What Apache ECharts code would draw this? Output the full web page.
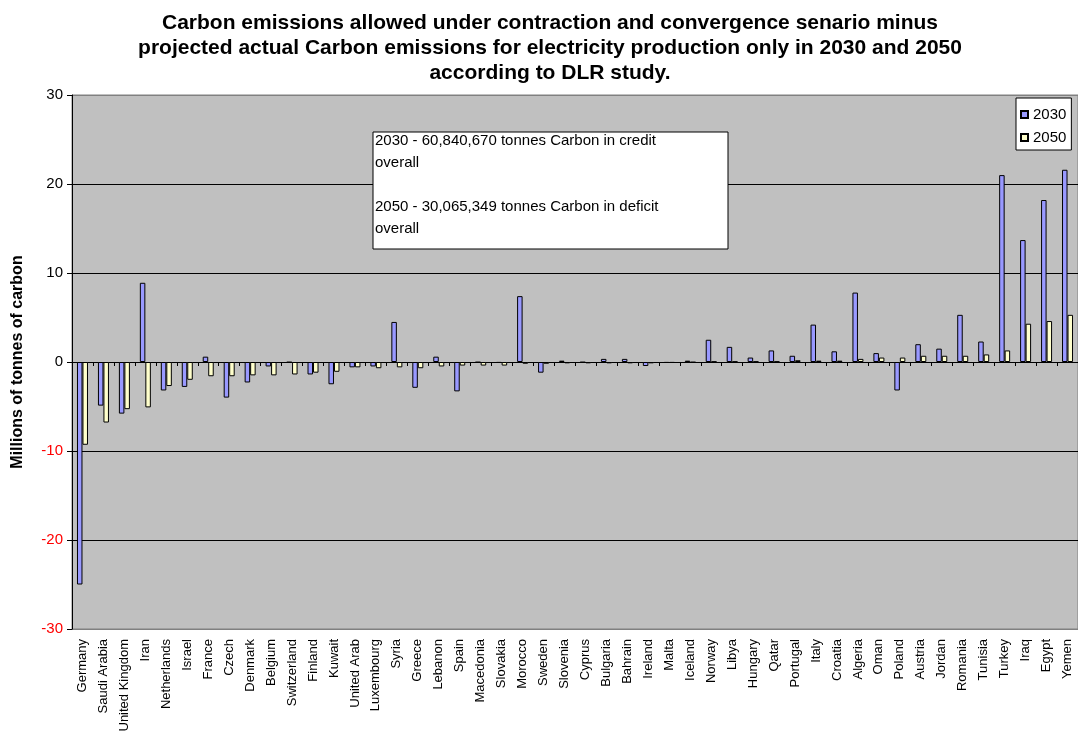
<!DOCTYPE html>
<html>
<head>
<meta charset="utf-8">
<script src="https://cdn.jsdelivr.net/npm/echarts@6/dist/echarts.min.js"></script>
<style>
  html, body { margin: 0; padding: 0; background: #fff; }
  #main { width: 1078px; height: 745px; }
</style>
</head>
<body>
<div id="main"></div>
<script>
// country names along the x axis
var countries = ['Germany', 'Saudi Arabia', 'United Kingdom', 'Iran', 'Netherlands', 'Israel', 'France', 'Czech',
  'Denmark', 'Belgium', 'Switzerland', 'Finland', 'Kuwait', 'United Arab', 'Luxembourg', 'Syria', 'Greece',
  'Lebanon', 'Spain', 'Macedonia', 'Slovakia', 'Morocco', 'Sweden', 'Slovenia', 'Cyprus', 'Bulgaria', 'Bahrain',
  'Ireland', 'Malta', 'Iceland', 'Norway', 'Libya', 'Hungary', 'Qatar', 'Portugal', 'Italy', 'Croatia', 'Algeria',
  'Oman', 'Poland', 'Austria', 'Jordan', 'Romania', 'Tunisia', 'Turkey', 'Iraq', 'Egypt', 'Yemen'];

// millions of tonnes of carbon
var values2030 = [-25.0, -4.9, -5.8, 8.9, -3.2, -2.8, 0.6, -4.0, -2.3, -0.5, -0.05, -1.4, -2.5, -0.6, -0.5, 4.5,
  -2.9, 0.6, -3.3, -0.05, -0.1, 7.4, -1.2, 0.15, -0.05, 0.35, 0.35, -0.45, -0.1, 0.15, 2.5, 1.7, 0.5, 1.3, 0.7,
  4.2, 1.2, 7.8, 1.0, -3.2, 2.0, 1.5, 5.3, 2.3, 21.0, 13.7, 18.2, 21.6];
var values2050 = [-9.3, -6.8, -5.3, -5.1, -2.7, -2.0, -1.6, -1.6, -1.5, -1.5, -1.4, -1.2, -1.1, -0.6, -0.7, -0.6,
  -0.7, -0.5, -0.4, -0.4, -0.4, -0.2, -0.2, -0.15, -0.15, -0.15, -0.15, -0.15, -0.1, -0.05, 0.05, 0.05, 0.05,
  0.05, 0.2, 0.15, 0.15, 0.35, 0.5, 0.5, 0.7, 0.7, 0.7, 0.85, 1.3, 4.3, 4.6, 5.3];

var titleText = 'Carbon emissions allowed under contraction and convergence senario minus\n' +
  'projected actual Carbon emissions for electricity production only in 2030 and 2050\n' +
  'according to DLR study.';
var noteLines = ['2030 - 60,840,670 tonnes Carbon in credit', 'overall', '',
  '2050 - 30,065,349 tonnes Carbon in deficit', 'overall'];

var font = 'Arial, "Liberation Sans", sans-serif';
var chart = echarts.init(document.getElementById('main'));

chart.setOption({
  backgroundColor: '#fff',
  animation: false,
  textStyle: { fontFamily: font },
  title: {
    text: titleText,
    left: 550,
    top: 11,
    padding: 0,
    textAlign: 'center',
    textStyle: { fontSize: 21, fontWeight: 'bold', color: '#000', lineHeight: 25, fontFamily: font }
  },
  legend: {
    orient: 'vertical',
    left: 1016,
    top: 98,
    padding: [9, 5, 5, 4],
    itemGap: 8,
    itemWidth: 7,
    itemHeight: 7,
    icon: 'rect',
    backgroundColor: '#fff',
    borderColor: '#000',
    borderWidth: 1,
    borderRadius: 0,
    textStyle: { fontSize: 15, color: '#000' },
    data: ['2030', '2050']
  },
  grid: {
    left: 72, right: 0, top: 95, bottom: 116,
    show: true,
    backgroundColor: '#c0c0c0',
    borderColor: '#808080',
    borderWidth: 1
  },
  xAxis: [{
    type: 'category',
    data: countries,
    position: 'bottom',
    axisLine: { show: true, onZero: true, lineStyle: { color: '#000', width: 1 } },
    axisTick: { show: true, interval: 0, length: 4, lineStyle: { color: '#000' } },
    axisLabel: { show: false },
    splitLine: { show: false }
  }, {
    type: 'category',
    data: countries,
    position: 'bottom',
    axisLine: { show: false, onZero: false },
    axisTick: { show: false },
    axisLabel: { rotate: 90, margin: 10, fontSize: 13, color: '#000', interval: 0 },
    splitLine: { show: false }
  }],
  yAxis: {
    type: 'value',
    min: -30, max: 30, interval: 10,
    name: 'Millions of tonnes of carbon',
    nameLocation: 'middle',
    nameGap: 46,
    nameTextStyle: { fontSize: 16, fontWeight: 'bold', color: '#000' },
    axisLine: { show: true, lineStyle: { color: '#000' } },
    axisTick: { show: true, length: 5, lineStyle: { color: '#000' } },
    axisLabel: {
      fontSize: 15, margin: 9,
      color: function (v) { return Number(v) < 0 ? '#ff0000' : '#000'; }
    },
    splitLine: {
      show: true,
      lineStyle: { color: ['#808080', '#000', '#000', '#000', '#000', '#000', '#808080'], width: 1 }
    }
  },
  series: [{
    name: '2030',
    type: 'bar',
    data: values2030,
    barWidth: 5.5,
    barGap: '0%',
    itemStyle: { color: '#9999ff', borderColor: '#000', borderWidth: 1 }
  }, {
    name: '2050',
    type: 'bar',
    data: values2050,
    barWidth: 5.5,
    itemStyle: { color: '#ffffcc', borderColor: '#000', borderWidth: 1 }
  }],
  graphic: [{
    type: 'rect',
    shape: { x: 373, y: 132, width: 355, height: 117 },
    style: { fill: '#fff', stroke: '#000', lineWidth: 1 },
    z: 10
  }, {
    type: 'text',
    x: 375, y: 130,
    style: {
      text: noteLines.join('\n'),
      font: '15px ' + font,
      fill: '#000',
      lineHeight: 22
    },
    z: 11
  }]
});
</script>
</body>
</html>
